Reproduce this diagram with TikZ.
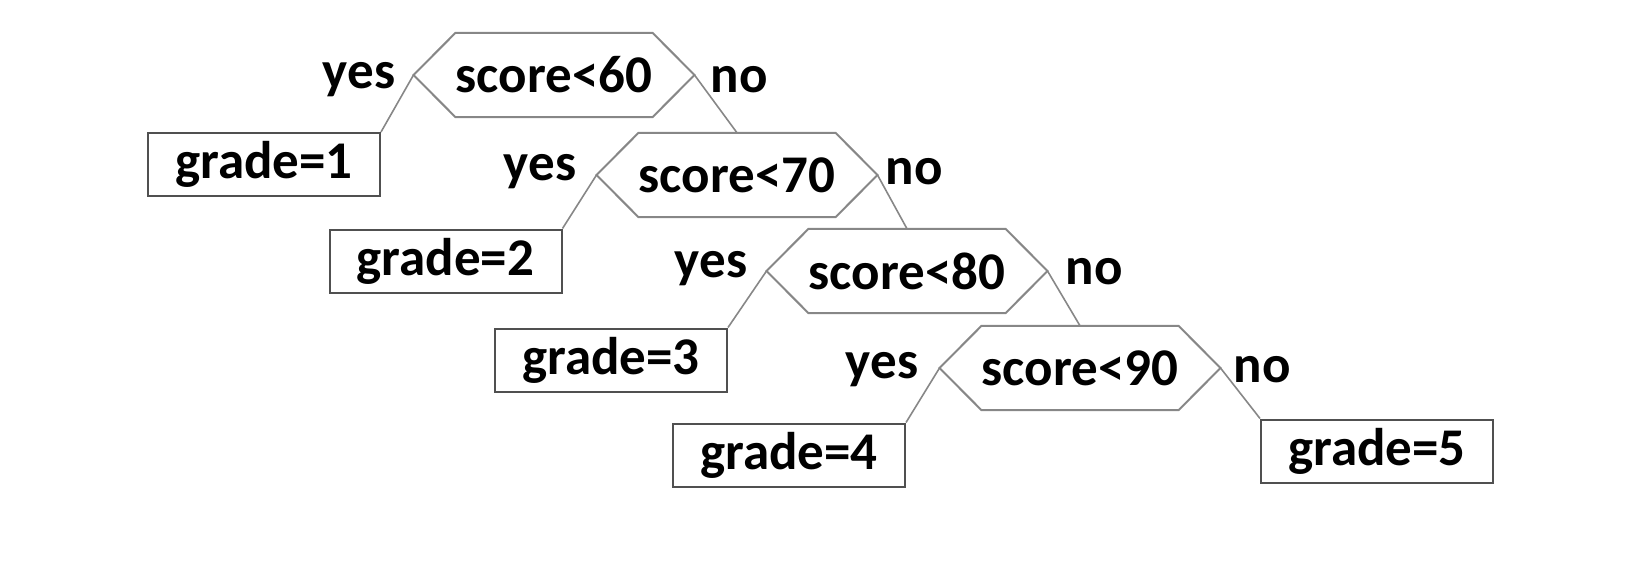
\documentclass[tikz,border=0pt]{standalone}
\usepackage{fontspec}
\setmainfont{Carlito}
\usetikzlibrary{calc}
\definecolor{edgegray}{RGB}{135,135,135}
\definecolor{boxgray}{RGB}{80,80,80}
\begin{document}
\begin{tikzpicture}[x=1pt,y=-1pt,
  txt/.style={font=\fontsize{53}{60}\selectfont\bfseries, text=black, inner sep=0pt},
  leaf/.style={txt, draw=boxgray, line width=2pt, minimum width=232pt, minimum height=63pt},
  test/.style={txt, minimum width=188pt, minimum height=84pt},
  hexline/.style={draw=edgegray, line width=2pt, line join=miter},
  edge/.style={draw=edgegray, line width=1.6pt},
  lab/.style={font=\fontsize{53}{60}\selectfont\bfseries, text=black, inner sep=0pt}]
\useasboundingbox (0,0) rectangle (1640,578);
% decision nodes
\node[test] (h1) at (554,75) {score<60};
\node[test] (h2) at (737,175) {score<70};
\node[test] (h3) at (907,271) {score<80};
\node[test] (h4) at (1080,368) {score<90};
\foreach \h in {h1,h2,h3,h4}{
  \coordinate (\h w) at ($(\h.west)+(-42,0)$);
  \coordinate (\h e) at ($(\h.east)+(42,0)$);
  \draw[hexline] (\h.north west) -- (\h.north east) -- (\h e) -- (\h.south east) -- (\h.south west) -- (\h w) -- cycle;
}
% leaves
\node[leaf] (g1) at (264,164.5) {grade=1};
\node[leaf] (g2) at (445.5,261) {grade=2};
\node[leaf] (g3) at (611,360) {grade=3};
\node[leaf] (g4) at (789,455) {grade=4};
\node[leaf] (g5) at (1377,451) {grade=5};
% labels
\node[lab] (y1) at (359,80) {yes};
\node[lab] (n1) at (739,80) {no};
\node[lab] (y2) at (540,172) {yes};
\node[lab] (n2) at (914,172) {no};
\node[lab] (y3) at (711,269) {yes};
\node[lab] (n3) at (1094,272) {no};
\node[lab] (y4) at (882,370) {yes};
\node[lab] (n4) at (1262,370) {no};
% connectors
\draw[edge] (h1w) -- (g1.north east);
\draw[edge] (h1e) -- (h2.north);
\draw[edge] (h2w) -- (g2.north east);
\draw[edge] (h2e) -- (h3.north);
\draw[edge] (h3w) -- (g3.north east);
\draw[edge] (h3e) -- (h4.north);
\draw[edge] (h4w) -- (g4.north east);
\draw[edge] (h4e) -- (g5.north west);
\end{tikzpicture}
\end{document}
